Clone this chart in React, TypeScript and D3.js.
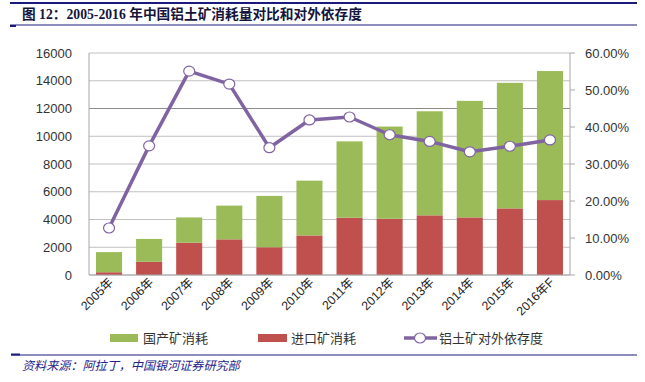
import React from "react";
import * as d3 from "d3";

const categories = ["2005年","2006年","2007年","2008年","2009年","2010年","2011年","2012年","2013年","2014年","2015年","2016年F"];
const domestic = [1450, 1650, 1820, 2430, 3700, 3950, 5500, 6650, 7500, 8400, 9050, 9300];
const imported = [200, 950, 2330, 2570, 2000, 2850, 4130, 4050, 4300, 4150, 4800, 5400];
const dependency = [0.127, 0.349, 0.551, 0.516, 0.344, 0.419, 0.427, 0.379, 0.361, 0.333, 0.348, 0.365];
const leftTicks = [0, 2000, 4000, 6000, 8000, 10000, 12000, 14000, 16000];
const rightTicks = [0, 0.1, 0.2, 0.3, 0.4, 0.5, 0.6];

const W = 645, H = 382;
const L = 89, R = 570, T = 53, B = 275;
const GREEN = "#9BBB59", RED = "#C0504D", PURPLE = "#8064A2", NAVY = "#1B1B7E";

export default function App() {
  const x = d3.scaleBand<string>().domain(categories).range([L, R]).paddingInner(0.35).paddingOuter(0.175);
  const y = d3.scaleLinear().domain([0, 16000]).range([B, T]);
  const y2 = d3.scaleLinear().domain([0, 0.6]).range([B, T]);
  const cx = (c: string) => (x(c) as number) + x.bandwidth() / 2;
  const line = d3.line<number>().x((_, i) => cx(categories[i])).y(d => y2(d));
  const pct = d3.format(".2%");
  const numFont = "'Liberation Sans', Arial, sans-serif";
  const cjk = "'Noto Sans CJK SC', sans-serif";
  return (
    <svg width={W} height={H} style={{ position: "absolute", left: 0, top: 0, background: "#fff" }}>
      <rect x={0} y={0} width={W} height={H} fill="#fff" />
      {/* header */}
      <line x1={10} x2={637} y1={3} y2={3} stroke={NAVY} strokeWidth={2} />
      <text x={22} y={19} fontSize={13.7} fontWeight="bold" fill="#14143C" fontFamily={"'Liberation Serif', 'Noto Sans CJK SC', serif"}>
        图 12：2005-2016 年中国铝土矿消耗量对比和对外依存度
      </text>
      <line x1={10} x2={637} y1={25} y2={25} stroke={NAVY} strokeWidth={1.2} />
      <line x1={10} x2={16} y1={26} y2={26} stroke={NAVY} strokeWidth={2} />

      {/* gridlines */}
      {leftTicks.map(t => (
        <line key={t} x1={L} x2={R} y1={y(t)} y2={y(t)} stroke={t === 12000 ? "#8C8C8C" : "#C0C0C0"} strokeWidth={1} />
      ))}
      {/* bars */}
      {categories.map((c, i) => (
        <g key={c}>
          <rect x={x(c)} width={x.bandwidth()} y={y(imported[i])} height={y(0) - y(imported[i])} fill={RED} />
          <rect x={x(c)} width={x.bandwidth()} y={y(imported[i] + domestic[i])} height={y(imported[i]) - y(imported[i] + domestic[i])} fill={GREEN} />
        </g>
      ))}
      {/* axes */}
      <line x1={L} x2={L} y1={T} y2={B} stroke="#A6A6A6" />
      <line x1={R} x2={R} y1={T} y2={B} stroke="#A6A6A6" />
      <line x1={L} x2={R} y1={B} y2={B} stroke="#A6A6A6" />
      {rightTicks.map(t => (
        <line key={t} x1={R} x2={R + 5} y1={y2(t)} y2={y2(t)} stroke="#A6A6A6" />
      ))}
      {leftTicks.map(t => (
        <text key={t} x={72} y={y(t) + 4.5} textAnchor="end" fontSize={13} fill="#333" fontFamily={numFont}>{t}</text>
      ))}
      {rightTicks.map(t => (
        <text key={t} x={585} y={y2(t) + 4.5} fontSize={13} fill="#333" fontFamily={numFont}>{pct(t)}</text>
      ))}
      {categories.map(c => (
        <text key={c} transform={`translate(${cx(c) + 5},${B + 8}) rotate(-45)`} textAnchor="end" fontSize={12.3} fill="#222" fontFamily={"'Liberation Sans', 'Noto Sans CJK SC', sans-serif"}>{c}</text>
      ))}
      {/* line */}
      <path d={line(dependency) || ""} fill="none" stroke={PURPLE} strokeWidth={3.5} strokeLinejoin="round" />
      {dependency.map((d, i) => (
        <ellipse key={i} cx={cx(categories[i])} cy={y2(d)} rx={5.5} ry={5} fill="#fff" stroke={PURPLE} strokeWidth={1.2} />
      ))}

      {/* legend */}
      <rect x={110} y={334} width={28} height={8} fill={GREEN} />
      <text x={143} y={343} fontSize={13} fill="#333" fontFamily={cjk}>国产矿消耗</text>
      <rect x={258} y={334} width={29} height={8} fill={RED} />
      <text x={291} y={343} fontSize={13} fill="#333" fontFamily={cjk}>进口矿消耗</text>
      <line x1={404} x2={437} y1={338} y2={338} stroke={PURPLE} strokeWidth={3.5} />
      <ellipse cx={420} cy={338} rx={5.5} ry={5} fill="#fff" stroke={PURPLE} strokeWidth={1.2} />
      <text x={439} y={343} fontSize={13} fill="#333" fontFamily={cjk}>铝土矿对外依存度</text>

      {/* footer */}
      <line x1={11} x2={637} y1={355} y2={355} stroke={NAVY} strokeWidth={1.2} />
      <line x1={11} x2={20} y1={354.5} y2={354.5} stroke={NAVY} strokeWidth={2} />
      <text x={22} y={370} fontSize={12.1} fontStyle="italic" fill="#23238C" fontFamily={cjk}>资料来源：阿拉丁，中国银河证券研究部</text>
    </svg>
  );
}
